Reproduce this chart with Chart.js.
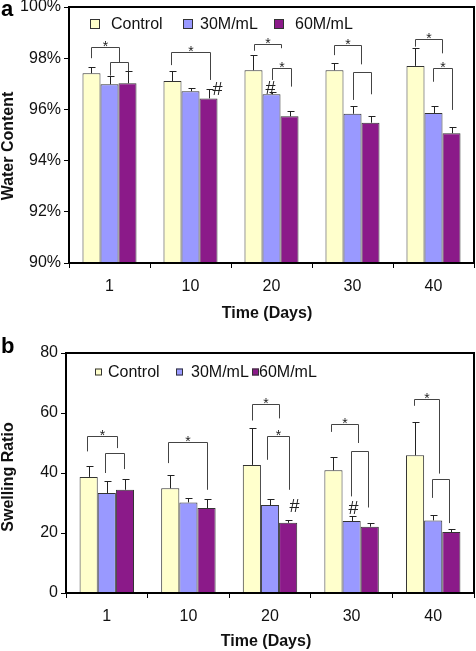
<!DOCTYPE html>
<html>
<head>
<meta charset="utf-8">
<script src="https://cdn.jsdelivr.net/npm/chart.js@4"></script>
<style>
    body { margin: 0; background: #fff; }
    #wrap { position: relative; width: 476px; height: 651px; }
    canvas { position: absolute; left: 0; }
</style>
</head>
<body>
<div id="wrap">
    <canvas id="chartA" width="476" height="325" style="top:0"></canvas>
    <canvas id="chartB" width="476" height="326" style="top:325px"></canvas>
</div>
<script>
const FONT = "'Liberation Sans', Arial, sans-serif";

// Categories / series
const days = ['1', '10', '20', '30', '40'];
const seriesNames = ['Control', '30M/mL', '60M/mL'];
const seriesColors = ['#FFFFCC', '#9999FF', '#8B1A89'];

// (a) Water content (%), means and upper error
const waterControl = [97.41, 97.11, 97.53, 97.53, 97.70];
const water30 = [96.98, 96.71, 96.59, 95.83, 95.86];
const water60 = [97.02, 96.43, 95.73, 95.48, 95.07];
const waterControlErr = [0.23, 0.38, 0.58, 0.27, 0.69];
const water30Err = [0.34, 0.14, 0.08, 0.30, 0.28];
const water60Err = [0.47, 0.35, 0.20, 0.27, 0.23];
const waterTicks = [90, 92, 94, 96, 98, 100];

// (b) Swelling ratio
const swellControl = [38.7, 34.9, 42.7, 40.9, 45.9];
const swell30 = [33.3, 30.2, 29.3, 24.0, 24.2];
const swell60 = [34.4, 28.3, 23.4, 22.1, 20.3];
const swellControlErr = [3.6, 4.3, 12.3, 4.6, 11.0];
const swell30Err = [3.9, 1.6, 2.0, 1.8, 1.8];
const swell60Err = [3.6, 3.0, 1.0, 1.3, 1.0];
const swellTicks = [0, 20, 40, 60, 80];

// Significance brackets: [day index, left slot, right slot, top, left leg end, right leg end, star]
// slot = offset from the day centre in bar widths (-1 Control, 0 30M, 1 60M)
const waterBrackets = [
    [0, -1.00, 0.53, 98.45, 98.00, 97.82, true],
    [0, 0.01, 1.04, 97.84, 97.32, 97.49, false],
    [1, -1.08, 1.08, 98.24, 97.73, 97.15, true],
    [2, -0.97, 0.53, 98.55, 98.29, 98.39, true],
    [2, 0.01, 1.10, 97.63, 97.15, 96.89, true],
    [3, -1.03, 0.47, 98.52, 98.12, 97.76, true],
    [3, 0.03, 1.01, 97.45, 96.37, 96.59, false],
    [4, -1.01, 0.47, 98.74, 98.45, 98.19, true],
    [4, -0.01, 1.01, 97.63, 97.08, 95.98, true]
];
const swellBrackets = [
    [0, -1.08, 0.55, 52.2, 47.2, 48.3, true],
    [0, -0.12, 0.95, 46.7, 40.0, 41.3, false],
    [1, -1.11, 1.01, 50.3, 43.3, 34.4, true],
    [2, -0.98, 0.51, 63.0, 57.5, 58.2, true],
    [2, -0.15, 1.06, 52.5, 44.4, 34.4, true],
    [3, -1.15, 0.37, 56.3, 53.7, 50.0, true],
    [3, -0.05, 0.88, 47.4, 32.2, 28.5, false],
    [4, -1.06, 0.34, 64.7, 62.4, 39.8, true],
    [4, -0.05, 0.89, 38.0, 31.7, 23.3, false]
];
// '#' marks: [day index, slot, value]
const waterHashes = [[1, 1.47, 96.80], [2, -0.11, 96.84]];
const swellHashes = [[2, 1.35, 29.3], [3, 0.05, 28.5]];

function panelPlugin(o) {
    return {
        id: 'panel',
        afterDatasetsDraw(chart) {
            const ctx = chart.ctx;
            const xs = chart.scales.x, ys = chart.scales.y;
            ctx.save();
            // error bars (upper only)
            ctx.strokeStyle = '#222';
            ctx.lineWidth = 1;
            o.errors.forEach((err, di) => {
                chart.getDatasetMeta(di).data.forEach((bar, i) => {
                    const x = Math.round(bar.x) + 0.5;
                    const yTop = Math.round(ys.getPixelForValue(o.values[di][i] + err[i])) + 0.5;
                    ctx.beginPath();
                    ctx.moveTo(x, bar.y);
                    ctx.lineTo(x, yTop);
                    ctx.moveTo(x - 3, yTop);
                    ctx.lineTo(x + 4, yTop);
                    ctx.stroke();
                });
            });
            // brackets
            const w = chart.getDatasetMeta(0).data[0].width;
            const slot = (cat, k) => Math.round(xs.getPixelForValue(cat) + k * w) + 0.5;
            ctx.strokeStyle = '#444';
            ctx.fillStyle = '#222';
            ctx.textAlign = 'center';
            ctx.textBaseline = 'alphabetic';
            o.brackets.forEach(([cat, kl, kr, top, endL, endR, star]) => {
                const x1 = slot(cat, kl), x2 = slot(cat, kr);
                const yt = Math.round(ys.getPixelForValue(top)) + 0.5;
                ctx.beginPath();
                ctx.moveTo(x1, ys.getPixelForValue(endL));
                ctx.lineTo(x1, yt);
                ctx.lineTo(x2, yt);
                ctx.lineTo(x2, ys.getPixelForValue(endR));
                ctx.stroke();
                if (star) {
                    ctx.font = '14px ' + FONT;
                    ctx.fillText('*', (x1 + x2) / 2, yt + 3);
                }
            });
            ctx.font = '18px ' + FONT;
            o.hashes.forEach(([cat, k, v]) => {
                ctx.fillText('#', slot(cat, k), ys.getPixelForValue(v) + 6.5);
            });
            ctx.restore();
        },
        afterDraw(chart) {
            const ctx = chart.ctx;
            const ca = chart.chartArea;
            ctx.save();
            // frame
            ctx.strokeStyle = '#000';
            ctx.lineWidth = 2;
            ctx.strokeRect(ca.left, ca.top, ca.right - ca.left, ca.bottom - ca.top);
            // legend
            ctx.font = '16px ' + FONT;
            ctx.textBaseline = 'middle';
            ctx.textAlign = 'left';
            seriesNames.forEach((name, i) => {
                const lg = o.legend;
                ctx.fillStyle = seriesColors[i];
                ctx.fillRect(lg.boxX[i], lg.y - lg.box / 2, lg.box, lg.box);
                ctx.strokeStyle = '#333';
                ctx.lineWidth = 1;
                ctx.strokeRect(lg.boxX[i] + 0.5, lg.y - lg.box / 2 + 0.5, lg.box - 1, lg.box - 1);
                ctx.fillStyle = '#111';
                ctx.fillText(name, lg.textX[i], lg.y + 1);
            });
            // axis titles
            ctx.font = 'bold 16px ' + FONT;
            ctx.fillStyle = '#111';
            ctx.textAlign = 'center';
            ctx.fillText('Time (Days)', o.xTitle[0], o.xTitle[1]);
            ctx.save();
            ctx.translate(o.yTitle[0], o.yTitle[1]);
            ctx.rotate(-Math.PI / 2);
            ctx.fillText(o.yTitleText, 0, 0);
            ctx.restore();
            // panel letter
            ctx.font = 'bold 22px ' + FONT;
            ctx.textAlign = 'left';
            ctx.textBaseline = 'alphabetic';
            ctx.fillStyle = '#000';
            ctx.fillText(o.letter, 1, o.letterY);
            ctx.restore();
        }
    };
}

function makeChart(id, o) {
    const datasets = o.values.map((vals, i) => ({
        label: seriesNames[i],
        data: vals,
        backgroundColor: seriesColors[i],
        borderColor: '#333',
        borderWidth: 1,
        categoryPercentage: 0.667,
        barPercentage: 1.0
    }));

    return new Chart(document.getElementById(id), {
        type: 'bar',
        data: { labels: days, datasets: datasets },
        options: {
            responsive: false,
            animation: false,
            events: [],
            layout: { padding: { top: o.padTop, right: 2, left: 0, bottom: 0 } },
            plugins: { legend: { display: false }, tooltip: { enabled: false } },
            scales: {
                x: {
                    grid: { offset: true, drawOnChartArea: false, drawTicks: true, tickLength: 5, color: '#000' },
                    border: { display: true, color: '#000', width: 2 },
                    ticks: { color: '#111', font: { family: FONT, size: 16 }, padding: 9, maxRotation: 0 },
                    afterFit: s => { s.height = o.xHeight; s.paddingLeft = 0; s.paddingRight = 0; }
                },
                y: {
                    min: o.ticks[0],
                    max: o.ticks[o.ticks.length - 1],
                    afterBuildTicks: s => { s.ticks = o.ticks.map(v => ({ value: v })); },
                    grid: { drawOnChartArea: false, drawTicks: true, tickLength: 5, color: '#000' },
                    border: { display: true, color: '#000', width: 2 },
                    ticks: { color: '#111', font: { family: FONT, size: 16 }, padding: 3, callback: o.tickFmt },
                    afterFit: s => { s.width = o.yWidth; s.paddingTop = 0; s.paddingBottom = 0; }
                }
            }
        },
        plugins: [panelPlugin(o)]
    });
}

makeChart('chartA', {
    values: [waterControl, water30, water60],
    errors: [waterControlErr, water30Err, water60Err],
    ticks: waterTicks,
    tickFmt: v => v + '%',
    brackets: waterBrackets,
    hashes: waterHashes,
    padTop: 7,
    yWidth: 69,
    xHeight: 62,
    legend: { y: 24, box: 10, boxX: [90, 183, 274], textX: [111, 200, 295] },
    xTitle: [267, 314],
    yTitle: [9, 146],
    yTitleText: 'Water Content',
    letter: 'a',
    letterY: 16
});

makeChart('chartB', {
    values: [swellControl, swell30, swell60],
    errors: [swellControlErr, swell30Err, swell60Err],
    ticks: swellTicks,
    tickFmt: v => v,
    brackets: swellBrackets,
    hashes: swellHashes,
    padTop: 28,
    yWidth: 66,
    xHeight: 58,
    legend: { y: 47, box: 7, boxX: [95, 176, 252], textX: [108, 191, 259] },
    xTitle: [266, 317],
    yTitle: [9, 152],
    yTitleText: 'Swelling Ratio',
    letter: 'b',
    letterY: 28
});
</script>
</body>
</html>
